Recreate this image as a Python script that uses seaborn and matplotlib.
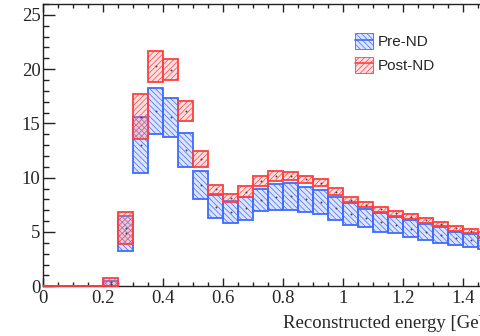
import matplotlib
matplotlib.use("Agg")
import numpy as np
import pandas as pd
import matplotlib.pyplot as plt
import seaborn as sns
from matplotlib.patches import Patch
from matplotlib.lines import Line2D
from matplotlib.ticker import MultipleLocator, FuncFormatter

# bins of reconstructed energy (GeV), left edges
bin_width = 0.05
bin_left = [round(i * bin_width, 2) for i in range(30)]

# Pre-ND band (low / high edge of the error box)
pre_low = [0, 0, 0, 0, 0, 3.25, 10.46, 14.0, 13.72, 11.0,
           8.0, 6.26, 5.8, 6.15, 6.9, 7.03, 7.03, 6.87, 6.65, 6.15,
           5.64, 5.43, 5.03, 4.88, 4.51, 4.26, 4.01, 3.8, 3.65, 3.4]
pre_high = [0, 0, 0, 0, 0.5, 6.5, 15.56, 18.23, 17.37, 14.1,
            10.65, 8.4, 7.88, 8.22, 8.97, 9.42, 9.54, 9.17, 8.87, 8.22,
            7.64, 7.15, 6.78, 6.41, 6.1, 5.74, 5.43, 5.03, 4.79, 4.42]

# Post-ND band
post_low = [0, 0, 0, 0, 0, 3.9, 13.56, 18.84, 19.0, 15.2,
            10.96, 8.5, 7.79, 8.2, 9.2, 9.7, 9.78, 9.48, 9.2, 8.41,
            7.73, 7.27, 6.87, 6.47, 6.17, 5.86, 5.55, 5.12, 4.88, 4.51]
post_high = [0, 0, 0, 0, 0.8, 6.87, 17.7, 21.7, 20.9, 17.09,
             12.49, 9.33, 8.5, 9.24, 10.17, 10.65, 10.55, 10.2, 9.85, 9.02,
             8.25, 7.79, 7.33, 6.96, 6.63, 6.26, 5.95, 5.55, 5.3, 5.03]

x_ticks_major = 0.2
y_ticks_major = 5


def main():
    sns.set_style("ticks")
    plt.rcParams["font.family"] = ["Liberation Serif", "DejaVu Serif"]
    plt.rcParams["hatch.linewidth"] = 0.5

    df = pd.DataFrame({"left": bin_left,
                       "pre_low": pre_low, "pre_high": pre_high,
                       "post_low": post_low, "post_high": post_high})
    df["center"] = df["left"] + bin_width / 2
    df["pre_mid"] = (df["pre_low"] + df["pre_high"]) / 2
    df["post_mid"] = (df["post_low"] + df["post_high"]) / 2

    W, H = 481, 336
    x0_px, y0_px = 43.3, 286.3
    xmax, ymax = 1.5, 26.0
    px_x, px_y = 300.0, 10.86
    fig = plt.figure(figsize=(W / 100, H / 100), dpi=100)
    ax = fig.add_axes([x0_px / W, (H - y0_px) / H, xmax * px_x / W, ymax * px_y / H])

    blue_edge, blue_face = "#3f6bff", (0.55, 0.65, 1.0, 0.30)
    red_edge, red_face = "#ff3f3f", (1.0, 0.55, 0.55, 0.28)
    blue_hatch, red_hatch = "\\" * 6, "/" * 6

    ax.bar(df["left"], df["pre_high"] - df["pre_low"], width=bin_width,
           bottom=df["pre_low"], align="edge", facecolor=blue_face,
           edgecolor=blue_edge, hatch=blue_hatch, linewidth=1.3, zorder=2,
           clip_on=False)
    ax.bar(df["left"], df["post_high"] - df["post_low"], width=bin_width,
           bottom=df["post_low"], align="edge", facecolor=red_face,
           edgecolor=red_edge, hatch=red_hatch, linewidth=1.3, zorder=3,
           clip_on=False)

    filled = df[df["pre_high"] > 0]
    sns.scatterplot(x=filled["center"], y=filled["pre_mid"], color="#444444",
                    s=2, linewidth=0, ax=ax, zorder=4, legend=False)
    sns.scatterplot(x=filled["center"], y=filled["post_mid"], color="#444444",
                    s=2, linewidth=0, ax=ax, zorder=4, legend=False)
    ax.set_ylabel("")

    ax.set_xlim(0, xmax)
    ax.set_ylim(0, ymax)
    ax.xaxis.set_major_locator(MultipleLocator(x_ticks_major))
    ax.xaxis.set_minor_locator(MultipleLocator(bin_width))
    ax.yaxis.set_major_locator(MultipleLocator(y_ticks_major))
    ax.yaxis.set_minor_locator(MultipleLocator(1))
    ax.xaxis.set_major_formatter(FuncFormatter(lambda v, p: "%g" % round(v, 2)))
    ax.yaxis.set_major_formatter(FuncFormatter(lambda v, p: "%g" % v))
    ax.tick_params(which="both", direction="in", top=True, right=True,
                   labelsize=13.5, color="#222222", width=1.0)
    ax.tick_params(axis="y", which="major", length=8.5, pad=2)
    ax.tick_params(axis="y", which="minor", length=4.5)
    ax.tick_params(axis="x", which="major", length=6, pad=3)
    ax.tick_params(axis="x", which="minor", length=3)
    for s in ax.spines.values():
        s.set_linewidth(1.0)
        s.set_color("#222222")

    ax.set_xlabel("Reconstructed energy [GeV]", fontsize=13.5, ha="left", va="center")
    ax.xaxis.set_label_coords(0.8 / xmax, (y0_px - 324) / (ymax * px_y))

    h_pre = (Patch(facecolor=blue_face, edgecolor=blue_edge, hatch=blue_hatch, linewidth=0.6),
             Line2D([], [], color=blue_edge, linewidth=1.2))
    h_post = (Patch(facecolor=red_face, edgecolor=red_edge, hatch=red_hatch, linewidth=0.6),
              Line2D([], [], color=red_edge, linewidth=1.2))
    ax.legend([h_pre, h_post], ["Pre-ND", "Post-ND"], frameon=False,
              loc="upper left", bbox_to_anchor=(355 / W, 1 - 33 / H),
              bbox_transform=fig.transFigure, borderaxespad=0, borderpad=0,
              handlelength=1.2, handleheight=1.25, handletextpad=0.3,
              labelspacing=0.5, prop={"family": "Liberation Sans", "size": 11})

    fig.savefig("out.png", dpi=100)


if __name__ == "__main__":
    main()
